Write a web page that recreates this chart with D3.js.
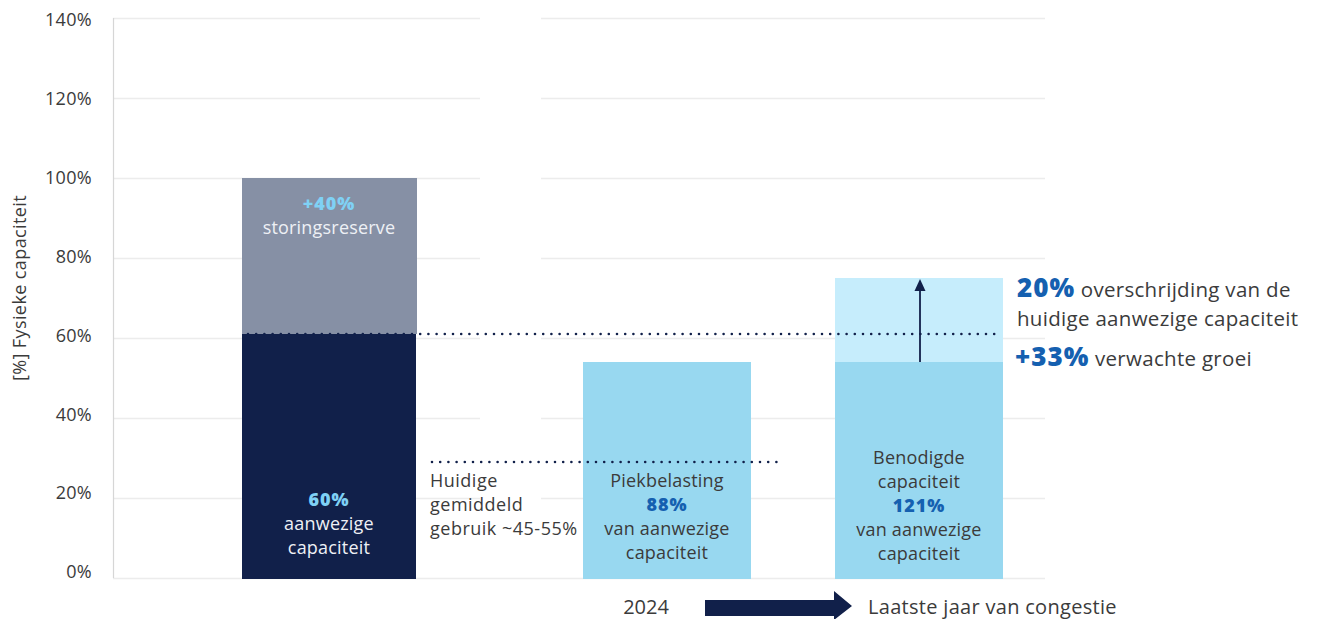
<!DOCTYPE html>
<html>
<head>
<meta charset="utf-8">
<script src="https://cdn.jsdelivr.net/npm/d3@7"></script>
<style>
  body { margin: 0; background: #fff; }
  svg text { font-family: "Open Sans", "Noto Sans", sans-serif; }
</style>
</head>
<body>
<svg id="chart" width="1319" height="619"></svg>
<script>
// ---- data ----
var yTicks = [0, 20, 40, 60, 80, 100, 120, 140];
var categories = ["Aanwezig", "Piekbelasting", "Benodigd"];
var baseValues = [61, 54, 54];        // lower segment (%)
var topValues = [100, null, 75];      // upper segment top (%)
var currentCapacity = 61;             // dotted reference line
var averageUse = 29;                  // dotted "huidige gemiddeld gebruik" line
var barLabels = [
    [{t: "60%", b: true}, {t: "aanwezige"}, {t: "capaciteit"}],
    [{t: "Piekbelasting"}, {t: "88%", b: true}, {t: "van aanwezige"}, {t: "capaciteit"}],
    [{t: "Benodigde"}, {t: "capaciteit"}, {t: "121%", b: true}, {t: "van aanwezige"}, {t: "capaciteit"}]
];
var reserveLabel = ["+40%", "storingsreserve"];
var avgLabel = ["Huidige", "gemiddeld", "gebruik ~45-55%"];

(function () {
    var svg = d3.select("svg"),
        margin = {top: 18, left: 113},
        plotH = 560,
        colors = {
            navy: "#11204a", reserve: "#8690a5", light: "#98d8f0",
            lighter: "#c6edfc", blue: "#1560b0", sky: "#7fd1f5",
            text: "#3b3b3b", grid: "#ececec"
        };

    var y = d3.scaleLinear().domain([0, 140]).range([margin.top + plotH, margin.top]);
    // tick labels sit slightly off the grid in the original
    var yLab = d3.scaleLinear().domain([0, 140]).range([572, 20]);
    // bar centres (uneven spacing in the original)
    var xCenter = d3.scaleOrdinal().domain(categories).range([329, 667, 919]);
    var barW = d3.scaleOrdinal().domain(categories).range([174, 168, 168]);

    // grid (two panels)
    [[113, 480], [541, 1045]].forEach(function (seg) {
        svg.append("g").selectAll("line").data(yTicks.slice(1)).enter().append("line")
            .attr("x1", seg[0]).attr("x2", seg[1])
            .attr("y1", function (d) { return y(d) + 0.5; })
            .attr("y2", function (d) { return y(d) + 0.5; })
            .attr("stroke", colors.grid).attr("stroke-width", 1.5);
    });
    svg.append("line").attr("x1", 113).attr("x2", 1045)
        .attr("y1", y(0) + 0.5).attr("y2", y(0) + 0.5)
        .attr("stroke", colors.grid).attr("stroke-width", 1.5);
    svg.append("line").attr("x1", 113.5).attr("x2", 113.5)
        .attr("y1", y(140)).attr("y2", y(0))
        .attr("stroke", "#d6d6d6").attr("stroke-width", 1.2);

    // y axis labels
    svg.append("g").selectAll("text").data(yTicks).enter().append("text")
        .attr("x", 92).attr("y", function (d) { return yLab(d); })
        .attr("dy", "0.35em").attr("text-anchor", "end")
        .attr("font-size", 18).attr("letter-spacing", 0.3).attr("fill", colors.text)
        .text(function (d) { return d + "%"; });
    svg.append("text")
        .attr("transform", "translate(26,288) rotate(-90)")
        .attr("text-anchor", "middle").attr("font-size", 18).attr("letter-spacing", 0.4)
        .attr("fill", colors.text)
        .text("[%] Fysieke capaciteit");

    // upper segments
    categories.forEach(function (c, i) {
        if (topValues[i] == null) { return; }
        svg.append("rect")
            .attr("x", xCenter(c) - barW(c) / 2).attr("width", barW(c) + (i === 0 ? 1 : 0))
            .attr("y", y(topValues[i])).attr("height", y(baseValues[i]) - y(topValues[i]))
            .attr("fill", i === 0 ? colors.reserve : colors.lighter);
    });
    // base segments
    categories.forEach(function (c, i) {
        svg.append("rect")
            .attr("x", xCenter(c) - barW(c) / 2).attr("width", barW(c))
            .attr("y", y(baseValues[i])).attr("height", y(0) - y(baseValues[i]) + 1)
            .attr("fill", i === 0 ? colors.navy : colors.light);
    });

    // dotted lines
    function dotted(x1, x2, v) {
        svg.append("line").attr("x1", x1).attr("x2", x2)
            .attr("y1", y(v)).attr("y2", y(v))
            .attr("stroke", colors.navy).attr("stroke-width", 2.6)
            .attr("stroke-linecap", "round").attr("stroke-dasharray", "0 8.2");
    }
    dotted(248, 1000, currentCapacity);
    dotted(432, 780, averageUse);

    // growth arrow in third bar
    var ax = xCenter(categories[2]) + 1;
    svg.append("line")
        .attr("x1", ax).attr("x2", ax)
        .attr("y1", y(baseValues[2])).attr("y2", y(topValues[2]) + 11)
        .attr("stroke", colors.navy).attr("stroke-width", 1.8);
    svg.append("path")
        .attr("d", "M" + ax + "," + (y(topValues[2]) + 1) + "l-5.5,12h11z")
        .attr("fill", colors.navy);

    // bar labels
    var lh = 24;
    function centredBlock(cx, yFirst, lines, fillN, fillB) {
        var t = svg.append("text").attr("text-anchor", "middle").attr("font-size", 18);
        lines.forEach(function (l, k) {
            t.append("tspan").attr("x", cx).attr("y", yFirst + k * lh)
                .attr("font-weight", l.b ? 800 : 400)
                .attr("letter-spacing", l.b ? 1 : 0.2)
                .attr("fill", l.b ? fillB : fillN)
                .text(l.t);
        });
    }
    centredBlock(xCenter(categories[0]), 506, barLabels[0], "#eef0f5", colors.sky);
    centredBlock(xCenter(categories[1]), 487, barLabels[1], colors.text, colors.blue);
    centredBlock(xCenter(categories[2]), 464, barLabels[2], colors.text, colors.blue);
    centredBlock(xCenter(categories[0]), 210, [{t: reserveLabel[0], b: true}, {t: reserveLabel[1]}],
        "#eef0f5", colors.sky);

    // average use label
    var at = svg.append("text").attr("font-size", 18).attr("letter-spacing", 0.5).attr("fill", colors.text);
    avgLabel.forEach(function (l, k) {
        at.append("tspan").attr("x", 430).attr("y", 487 + k * lh).text(l);
    });

    // right annotations
    var r1 = svg.append("text").attr("x", 1017).attr("y", 297).attr("font-size", 20.5)
        .attr("letter-spacing", 0.3).attr("fill", colors.text);
    r1.append("tspan").attr("font-size", 26).attr("font-weight", 800).attr("letter-spacing", 1)
        .attr("fill", colors.blue).text("20%");
    r1.append("tspan").attr("letter-spacing", 0.3).text(" overschrijding van de");
    svg.append("text").attr("x", 1017).attr("y", 326).attr("font-size", 20.5)
        .attr("letter-spacing", 0.3).attr("fill", colors.text)
        .text("huidige aanwezige capaciteit");
    var r2 = svg.append("text").attr("x", 1015).attr("y", 366).attr("font-size", 20.5)
        .attr("letter-spacing", 0.3).attr("fill", colors.text);
    r2.append("tspan").attr("font-size", 26).attr("font-weight", 800).attr("letter-spacing", 1)
        .attr("fill", colors.blue).text("+33%");
    r2.append("tspan").attr("letter-spacing", 0.3).text(" verwachte groei");

    // bottom timeline
    svg.append("text").attr("x", 646).attr("y", 614).attr("text-anchor", "middle")
        .attr("font-size", 20).attr("fill", colors.text).text("2024");
    svg.append("path")
        .attr("d", "M705,600H834V591L852,606L834,620V616H705Z")
        .attr("fill", colors.navy);
    svg.append("text").attr("x", 868).attr("y", 614)
        .attr("font-size", 20).attr("letter-spacing", 0.3).attr("fill", colors.text)
        .text("Laatste jaar van congestie");
})();
</script>
</body>
</html>
